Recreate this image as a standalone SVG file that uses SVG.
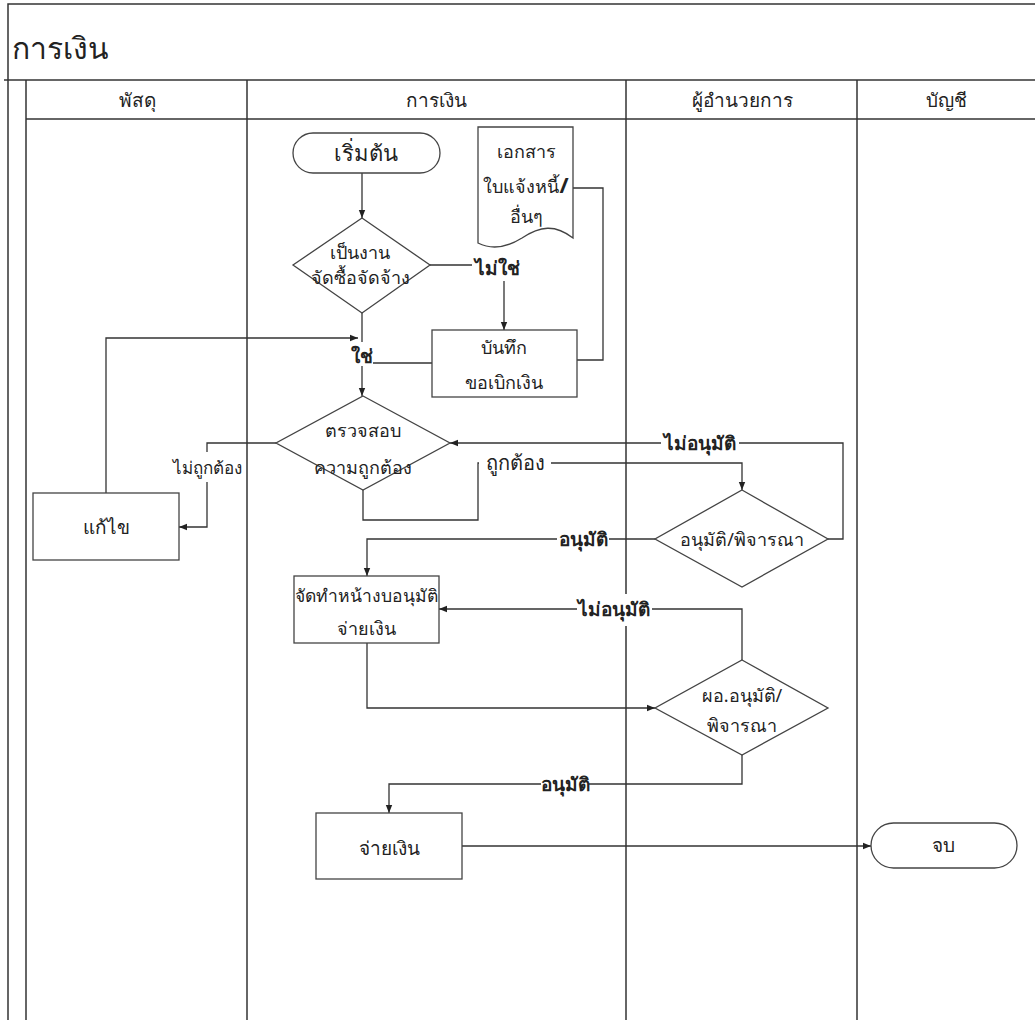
<svg xmlns="http://www.w3.org/2000/svg" width="1035" height="1020" viewBox="0 0 1035 1020">
  <style>
    text { font-family: "Noto Sans", "DejaVu Sans", sans-serif; fill: #222; }
    .lane { stroke: #333; stroke-width: 1.5; fill: none; }
    .shape { fill: #fff; stroke: #444; stroke-width: 1.3; }
    .conn { fill: none; stroke: #333; stroke-width: 1.3; }
    .node-text { font-size: 18px; text-anchor: middle; }
    .head { font-size: 19px; text-anchor: middle; }
    .lbl { font-size: 19px; text-anchor: middle; font-weight: bold; }
    .lbl-n { font-size: 17px; text-anchor: middle; }
    .lbl-bg { fill: #fff; stroke: none; }
  </style>
  <defs>
    <marker id="arrow" viewBox="0 0 10 10" refX="10" refY="5" markerWidth="8" markerHeight="8" markerUnits="userSpaceOnUse" orient="auto">
      <path d="M0,1 L10,5 L0,9 Z" fill="#222"/>
    </marker>
  </defs>

  <rect x="0" y="0" width="1035" height="1020" fill="#fff"/>

  <!-- pool and swimlanes -->
  <g id="pool">
    <path class="lane" d="M8,1020 V4 H1035"/>
    <path class="lane" d="M4,80 H1035"/>
    <path class="lane" d="M26,80 V1020"/>
    <path class="lane" d="M26,119 H1035"/>
    <path class="lane" d="M247,80 V1020"/>
    <path class="lane" d="M626,80 V1020"/>
    <path class="lane" d="M857,80 V1020"/>
    <text x="12" y="59" style="font-size:30px">การเงิน</text>
    <text class="head" x="137" y="107">พัสดุ</text>
    <text class="head" x="436" y="107">การเงิน</text>
    <text class="head" x="742" y="107">ผู้อำนวยการ</text>
    <text class="head" x="946" y="107">บัญชี</text>
  </g>

  <!-- connectors -->
  <g id="connectors">
    <path class="conn" d="M362,173 V218" marker-end="url(#arrow)"/>
    <path class="conn" d="M430,265 H504 V330" marker-end="url(#arrow)"/>
    <path class="conn" d="M362,313 V396" marker-end="url(#arrow)"/>
    <path class="conn" d="M432,363 H362"/>
    <path class="conn" d="M573,188 H603 V360 H577"/>
    <path class="conn" d="M106,493 V338 H358" marker-end="url(#arrow)"/>
    <path class="conn" d="M276,443 H207 V527 H179" marker-end="url(#arrow)"/>
    <path class="conn" d="M363,490 V520 H478 V463 H742 V490" marker-end="url(#arrow)"/>
    <path class="conn" d="M828,539 H843 V443 H450" marker-end="url(#arrow)"/>
    <path class="conn" d="M655,539 H367 V576" marker-end="url(#arrow)"/>
    <path class="conn" d="M742,660 V609 H439" marker-end="url(#arrow)"/>
    <path class="conn" d="M367,643 V708 H655" marker-end="url(#arrow)"/>
    <path class="conn" d="M742,755 V784 H389 V813" marker-end="url(#arrow)"/>
    <path class="conn" d="M462,846 H871" marker-end="url(#arrow)"/>

    <!-- connector labels -->
    <rect class="lbl-bg" x="472" y="253" width="50" height="28"/>
    <text class="lbl" x="497" y="275">ไม่ใช่</text>
    <rect class="lbl-bg" x="351" y="342" width="22" height="24"/>
    <text class="lbl" x="362" y="363">ใช่</text>
    <rect class="lbl-bg" x="169" y="452" width="76" height="30"/>
    <text class="lbl-n" x="207" y="474">ไม่ถูกต้อง</text>
    <rect class="lbl-bg" x="479" y="450" width="72" height="26"/>
    <text class="lbl-n" x="515" y="470" style="font-size:20px">ถูกต้อง</text>
    <rect class="lbl-bg" x="661" y="430" width="78" height="26"/>
    <text class="lbl" x="700" y="450">ไม่อนุมัติ</text>
    <rect class="lbl-bg" x="557" y="526" width="52" height="26"/>
    <text class="lbl" x="583" y="546">อนุมัติ</text>
    <rect class="lbl-bg" x="577" y="594" width="75" height="32"/>
    <text class="lbl" x="614" y="616">ไม่อนุมัติ</text>
    <rect class="lbl-bg" x="541" y="771" width="48" height="26"/>
    <text class="lbl" x="565" y="791">อนุมัติ</text>
  </g>

  <!-- flow nodes -->
  <g id="start">
    <rect class="shape" x="293" y="133" width="147" height="40" rx="20"/>
    <text class="node-text" x="366" y="161" style="font-size:22px">เริ่มต้น</text>
  </g>

  <g id="invoice-doc">
    <path class="shape" d="M478,127 H573 V238 C555,224 540,226 522,238 C506,248 492,250 478,243 Z"/>
    <text class="node-text" x="526" y="158">เอกสาร</text>
    <text class="node-text" x="526" y="193">ใบแจ้งหนี้<tspan style="font-weight:bold;font-size:22px">/</tspan></text>
    <text class="node-text" x="526" y="223">อื่นๆ</text>
  </g>

  <g id="is-procurement">
    <polygon class="shape" points="362,218 430,265 362,313 293,265"/>
    <text class="node-text" x="360" y="259">เป็นงาน</text>
    <text class="node-text" x="360" y="284">จัดซื้อจัดจ้าง</text>
  </g>

  <g id="record-request">
    <rect class="shape" x="432" y="330" width="145" height="67"/>
    <text class="node-text" x="504" y="354">บันทึก</text>
    <text class="node-text" x="504" y="389">ขอเบิกเงิน</text>
  </g>

  <g id="verify">
    <polygon class="shape" points="363,396 450,443 363,490 276,443"/>
    <text class="node-text" x="363" y="437">ตรวจสอบ</text>
    <text class="node-text" x="363" y="474">ความถูกต้อง</text>
  </g>

  <g id="fix">
    <rect class="shape" x="33" y="493" width="146" height="67"/>
    <text class="node-text" x="106" y="534" style="font-size:19px">แก้ไข</text>
  </g>

  <g id="approve">
    <polygon class="shape" points="742,490 828,539 742,587 655,539"/>
    <text class="node-text" x="742" y="546">อนุมัติ/พิจารณา</text>
  </g>

  <g id="prepare-payment">
    <rect class="shape" x="294" y="576" width="145" height="67"/>
    <text class="node-text" x="366" y="602" style="font-size:17.5px">จัดทำหน้างบอนุมัติ</text>
    <text class="node-text" x="366" y="635">จ่ายเงิน</text>
  </g>

  <g id="director-approve">
    <polygon class="shape" points="742,660 828,708 742,755 655,708"/>
    <text class="node-text" x="742" y="702">ผอ.อนุมัติ/</text>
    <text class="node-text" x="742" y="732">พิจารณา</text>
  </g>

  <g id="pay">
    <rect class="shape" x="316" y="813" width="146" height="66"/>
    <text class="node-text" x="389" y="855" style="font-size:19px">จ่ายเงิน</text>
  </g>

  <g id="end">
    <rect class="shape" x="871" y="823" width="146" height="45" rx="22.5"/>
    <text class="node-text" x="943" y="852" style="font-size:19px">จบ</text>
  </g>
</svg>
